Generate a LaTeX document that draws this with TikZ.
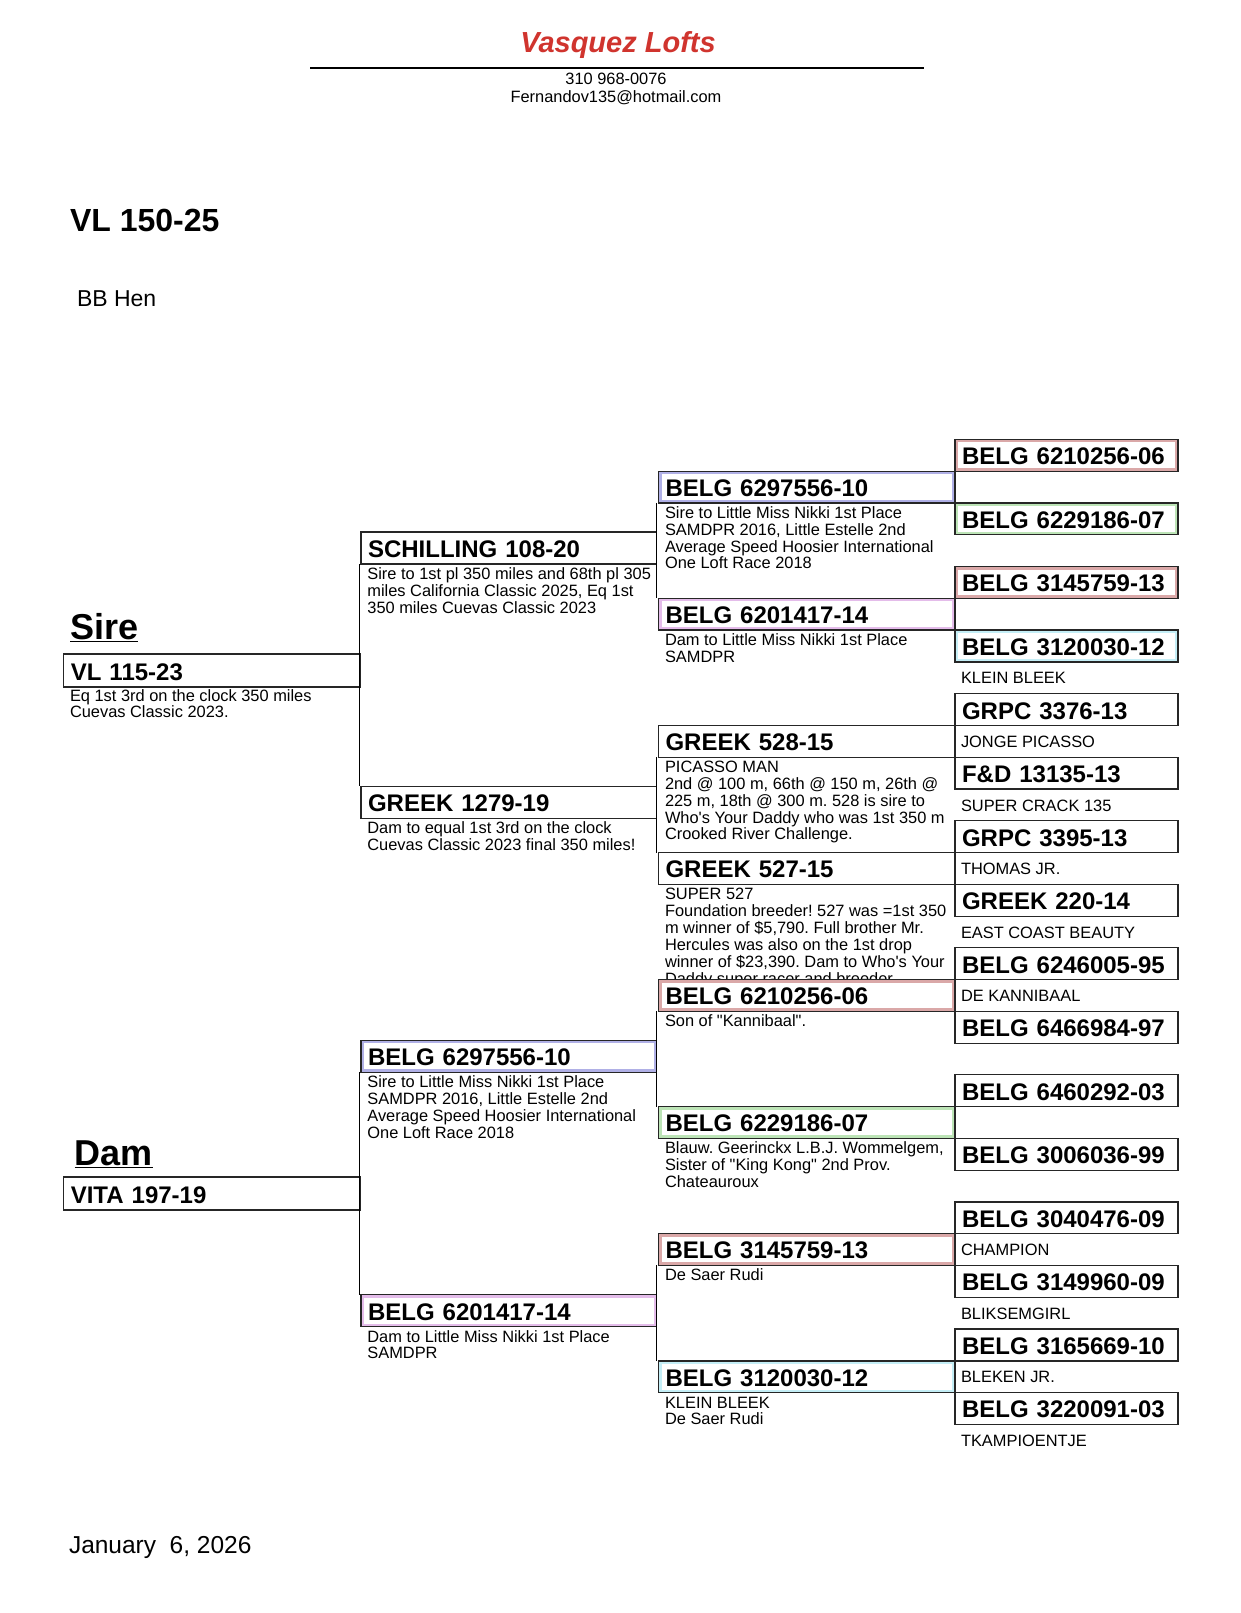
\documentclass[tikz,border=0pt]{standalone}
\usepackage{fontspec}
\setmainfont{Liberation Sans}
\setmonofont{Liberation Sans}
\definecolor{titlered}{RGB}{208,52,46}
\definecolor{tblue}{RGB}{176,176,230}
\definecolor{tviolet}{RGB}{228,188,234}
\definecolor{tred}{RGB}{218,168,168}
\definecolor{tgreen}{RGB}{188,228,182}
\definecolor{tcyan}{RGB}{196,238,246}
\newcommand\plines[1]{\begin{tabular}[t]{@{}l@{}}#1\end{tabular}}
\newcommand\notefont{\ttfamily\fontsize{16.4}{16.5}\selectfont}
\newcommand\boxfont{\fontsize{24}{26}\selectfont\bfseries}
\begin{document}
\begin{tikzpicture}[x=1pt,y=-1pt,
  pbox/.style={draw=black!85, line width=1.2pt, fill=white, rectangle, anchor=north west,
    inner xsep=7pt, inner ysep=0pt, outer sep=0pt, font=\boxfont, align=left, text depth=6.5pt},
  gonebox/.style={pbox, text width=282.2pt, text height=26pt, text depth=7pt},
  gtwobox/.style={pbox, text width=281.5pt, text height=25.5pt},
  gthreebox/.style={pbox, text width=282.5pt, text height=25.1pt},
  gfourbox/.style={pbox, text width=209pt, text height=25.4pt},
  tint/.style={path picture={\draw[#1, line width=6pt] (path picture bounding box.south west) rectangle (path picture bounding box.north east);}},
  note/.style={anchor=base west, inner sep=0pt, outer sep=0pt, font=\notefont},
  bracket/.style={draw=black, line width=1.5pt},
  plain/.style={anchor=base west, inner sep=0pt, outer sep=0pt}
]
\fill[white] (0,0) rectangle (1241,1613);
\useasboundingbox (0,0) rectangle (1241,1613);

% header
\node[anchor=base, inner sep=0pt, text=titlered, font=\fontsize{29}{32}\selectfont\bfseries\itshape] (title) at (618,53) {Vasquez Lofts};
\coordinate (rulel) at (310,68);
\coordinate (ruler) at (924,68);
\draw[line width=1.8pt] (rulel) -- (ruler);
\node[anchor=base, inner sep=0pt, font=\notefont] (phone) at (616,85) {310 968-0076};
\node[anchor=base, inner sep=0pt, font=\notefont] (mail) at (616,103) {Fernandov135@hotmail.com};

\node[plain, font=\fontsize{32}{34}\selectfont\bfseries] (band) at (70,232) {VL 150-25};
\node[plain, font=\fontsize{23}{25}\selectfont] (sex) at (77,306) {BB Hen};

% generation 1
\node[plain, font=\fontsize{36}{38}\selectfont\bfseries] (sirelbl) at (70,639) {\underline{Sire}};
\node[gonebox] (g1a) at (63.8,654) {VL 115-23};
\node[note] (n1a) at ([shift={(6.2,14)}]g1a.south west) {\plines{Eq 1st 3rd on the clock 350 miles\\Cuevas Classic 2023.}};
\node[plain, font=\fontsize{36}{38}\selectfont\bfseries] (damlbl) at (74.5,1165.5) {\underline{Dam}};
\node[gonebox] (g1b) at (63.8,1177) {VITA 197-19};

% generation 2
\node[gtwobox] (g2a) at (361,532) {SCHILLING 108-20};
\node[note] (n2a) at ([shift={(6.4,15.5)}]g2a.south west) {\plines{Sire to 1st pl 350 miles and 68th pl 305\\miles California Classic 2025, Eq 1st\\350 miles Cuevas Classic 2023}};
\node[gtwobox] (g2b) at (361,786.2) {GREEK 1279-19};
\node[note] (n2b) at ([shift={(6.4,15.5)}]g2b.south west) {\plines{Dam to equal 1st 3rd on the clock\\Cuevas Classic 2023 final 350 miles!}};
\node[gtwobox,tint=tblue] (g2c) at (361,1040.3) {BELG 6297556-10};
\node[note] (n2c) at ([shift={(6.4,15.5)}]g2c.south west) {\plines{Sire to Little Miss Nikki 1st Place\\SAMDPR 2016, Little Estelle 2nd\\Average Speed Hoosier International\\One Loft Race 2018}};
\node[gtwobox,tint=tviolet] (g2d) at (361,1294.5) {BELG 6201417-14};
\node[note] (n2d) at ([shift={(6.4,15.5)}]g2d.south west) {\plines{Dam to Little Miss Nikki 1st Place\\SAMDPR}};

% generation 3
\node[gthreebox,tint=tblue] (g3a) at (658.5,471.3) {BELG 6297556-10};
\node[note] (n3a) at ([shift={(6.5,15.5)}]g3a.south west) {\plines{Sire to Little Miss Nikki 1st Place\\SAMDPR 2016, Little Estelle 2nd\\Average Speed Hoosier International\\One Loft Race 2018}};
\node[gthreebox,tint=tviolet] (g3b) at (658.5,598.4) {BELG 6201417-14};
\node[note] (n3b) at ([shift={(6.5,15.5)}]g3b.south west) {\plines{Dam to Little Miss Nikki 1st Place\\SAMDPR}};
\node[gthreebox] (g3c) at (658.5,725.5) {GREEK 528-15};
\node[note] (n3c) at ([shift={(6.5,15.5)}]g3c.south west) {\plines{PICASSO MAN\\2nd @ 100 m, 66th @ 150 m, 26th @\\225 m, 18th @ 300 m. 528 is sire to\\Who's Your Daddy who was 1st 350 m\\Crooked River Challenge.}};
\node[gthreebox] (g3d) at (658.5,852.5) {GREEK 527-15};
\node[note] (n3d) at ([shift={(6.5,15.5)}]g3d.south west) {\plines{SUPER 527\\Foundation breeder! 527 was =1st 350\\m winner of \$5,790. Full brother Mr.\\Hercules was also on the 1st drop\\winner of \$23,390. Dam to Who's Your\\Daddy super racer and breeder}};
\node[gthreebox,tint=tred] (g3e) at (658.5,979.6) {BELG 6210256-06};
\node[note] (n3e) at ([shift={(6.5,15.5)}]g3e.south west) {Son of "Kannibaal".};
\node[gthreebox,tint=tgreen] (g3f) at (658.5,1106.7) {BELG 6229186-07};
\node[note] (n3f) at ([shift={(6.5,15.5)}]g3f.south west) {\plines{Blauw. Geerinckx L.B.J. Wommelgem,\\Sister of "King Kong" 2nd Prov.\\Chateauroux}};
\node[gthreebox,tint=tred] (g3g) at (658.5,1233.8) {BELG 3145759-13};
\node[note] (n3g) at ([shift={(6.5,15.5)}]g3g.south west) {De Saer Rudi};
\node[gthreebox,tint=tcyan] (g3h) at (658.5,1360.9) {BELG 3120030-12};
\node[note] (n3h) at ([shift={(6.5,15.5)}]g3h.south west) {\plines{KLEIN BLEEK\\De Saer Rudi}};

% generation 4
\node[gfourbox,tint=tred] (g4a) at (955,439.4) {BELG 6210256-06};
\node[gfourbox,tint=tgreen] (g4b) at (955,502.9) {BELG 6229186-07};
\node[gfourbox,tint=tred] (g4c) at (955,566.5) {BELG 3145759-13};
\node[gfourbox,tint=tcyan] (g4d) at (955,630.0) {BELG 3120030-12};
\node[gfourbox] (g4e) at (955,693.6) {GRPC 3376-13};
\node[gfourbox] (g4f) at (955,757.1) {F\&D 13135-13};
\node[gfourbox] (g4g) at (955,820.6) {GRPC 3395-13};
\node[gfourbox] (g4h) at (955,884.2) {GREEK 220-14};
\node[gfourbox] (g4i) at (955,947.7) {BELG 6246005-95};
\node[gfourbox] (g4j) at (955,1011.3) {BELG 6466984-97};
\node[gfourbox] (g4k) at (955,1074.8) {BELG 6460292-03};
\node[gfourbox] (g4l) at (955,1138.3) {BELG 3006036-99};
\node[gfourbox] (g4m) at (955,1201.9) {BELG 3040476-09};
\node[gfourbox] (g4n) at (955,1265.4) {BELG 3149960-09};
\node[gfourbox] (g4o) at (955,1329.0) {BELG 3165669-10};
\node[gfourbox] (g4p) at (955,1392.5) {BELG 3220091-03};

\node[note] (n4d) at ([shift={(6,22)}]g4d.south west) {KLEIN BLEEK};
\node[note] (n4e) at ([shift={(6,22)}]g4e.south west) {JONGE PICASSO};
\node[note] (n4f) at ([shift={(6,22)}]g4f.south west) {SUPER CRACK 135};
\node[note] (n4g) at ([shift={(6,22)}]g4g.south west) {THOMAS JR.};
\node[note] (n4h) at ([shift={(6,22)}]g4h.south west) {EAST COAST BEAUTY};
\node[note] (n4i) at ([shift={(6,22)}]g4i.south west) {DE KANNIBAAL};
\node[note] (n4m) at ([shift={(6,22)}]g4m.south west) {CHAMPION};
\node[note] (n4n) at ([shift={(6,22)}]g4n.south west) {BLIKSEMGIRL};
\node[note] (n4o) at ([shift={(6,22)}]g4o.south west) {BLEKEN JR.};
\node[note] (n4p) at ([shift={(6,22)}]g4p.south west) {TKAMPIOENTJE};

% brackets
\draw[bracket] ([xshift=-1.5pt]g2a.south west) -- ([xshift=-1.5pt]g2b.north west);
\draw[bracket] ([xshift=-1.5pt]g2c.south west) -- ([xshift=-1.5pt]g2d.north west);
\draw[bracket] ([xshift=-2pt]g3a.south west) -- ([xshift=-2pt]g3b.north west);
\draw[bracket] ([xshift=-2pt]g3c.south west) -- ([xshift=-2pt]g3d.north west);
\draw[bracket] ([xshift=-2pt]g3e.south west) -- ([xshift=-2pt]g3f.north west);
\draw[bracket] ([xshift=-2pt]g3g.south west) -- ([xshift=-2pt]g3h.north west);

% footer
\node[plain, font=\fontsize{24.5}{26}\selectfont] (date) at (69,1553) {January~~6, 2026};
\end{tikzpicture}
\end{document}
